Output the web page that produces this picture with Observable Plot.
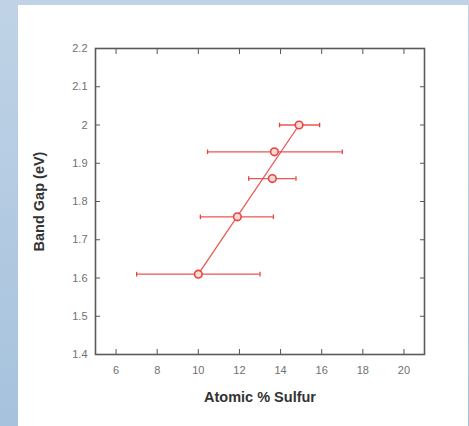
<!DOCTYPE html>
<html>
<head>
<meta charset="utf-8">
<script src="https://cdn.jsdelivr.net/npm/d3@7"></script>
<script src="https://cdn.jsdelivr.net/npm/@observablehq/plot@0.6"></script>
<style>
  html, body { margin: 0; padding: 0; }
  #wrap {
    position: relative; width: 469px; height: 426px; overflow: hidden;
    background: linear-gradient(to bottom, #c0d3e6 0%, #a6c2dd 100%);
  }
  #panel {
    position: absolute; left: 18px; top: 5px; right: 1px; bottom: 0;
    background: #ffffff;
  }
  #chart { position: absolute; left: 0; top: 0; }
  #chart svg { background: transparent; }
</style>
</head>
<body>
<div id="wrap"><div id="panel"></div><div id="chart"></div></div>
<script>
// Measured samples: atomic % sulfur (with spread) against band gap
const sulfur    = [10.0, 11.9, 13.6, 13.7, 14.9];
const sulfurLow = [7.0, 10.1, 12.45, 10.45, 13.95];
const sulfurHigh= [13.0, 13.65, 14.75, 17.0, 15.9];
const bandGap   = [1.61, 1.76, 1.86, 1.93, 2.00];

// Linear trend drawn through the series
const trendX = [10.0, 14.9];
const trendY = [1.61, 2.00];

const xTicks = [6, 8, 10, 12, 14, 16, 18, 20];
const yTicks = [1.4, 1.5, 1.6, 1.7, 1.8, 1.9, 2.0, 2.1, 2.2];

const points = sulfur.map((x, i) => ({x, lo: sulfurLow[i], hi: sulfurHigh[i], y: bandGap[i]}));
const trend = trendX.map((x, i) => ({x, y: trendY[i]}));

const red = "#e8443f";

// vertical bar used as the cap at each end of an error bar
const capSymbol = {
  draw(context, size) {
    const h = Math.sqrt(size) / 2;
    context.moveTo(0, -h);
    context.lineTo(0, h);
  }
};

const chart = Plot.plot({
  width: 469,
  height: 426,
  marginLeft: 95,
  marginRight: 45,
  marginTop: 48,
  marginBottom: 72,
  style: {fontFamily: "'Liberation Sans', Arial, sans-serif", background: "transparent"},
  x: {domain: [5, 21]},
  y: {domain: [1.4, 2.2]},
  marks: [
    Plot.axisX({anchor: "bottom", ticks: xTicks, tickSize: -5, tickPadding: 17,
      fontSize: 11, color: "#707070", stroke: "#555", label: null}),
    Plot.axisX({anchor: "top", ticks: xTicks, tickSize: -5, tickFormat: () => "",
      stroke: "#555", label: null}),
    Plot.axisY({anchor: "left", ticks: yTicks, tickSize: -5, tickPadding: 13,
      tickFormat: d => String(+d.toFixed(1)),
      fontSize: 11, color: "#707070", stroke: "#555", label: null}),
    Plot.axisY({anchor: "right", ticks: yTicks, tickSize: -5, tickFormat: () => "",
      stroke: "#555", label: null}),
    Plot.frame({stroke: "#5a5a5a", strokeWidth: 1.6}),
    Plot.ruleY(points, {y: "y", x1: "lo", x2: "hi", stroke: red, strokeWidth: 1.3, strokeOpacity: 0.9}),
    Plot.dot(points, {x: "lo", y: "y", symbol: capSymbol, r: 2.6, stroke: red, strokeWidth: 1.3}),
    Plot.dot(points, {x: "hi", y: "y", symbol: capSymbol, r: 2.6, stroke: red, strokeWidth: 1.3}),
    Plot.line(trend, {x: "x", y: "y", stroke: red, strokeWidth: 1.3, strokeOpacity: 0.9}),
    Plot.dot(points, {x: "x", y: "y", r: 3.8, stroke: red, strokeWidth: 1.6, fill: "#fbd9d7"}),
    Plot.text(["Atomic % Sulfur"], {frameAnchor: "bottom", dy: 47, fontSize: 14.5,
      fontWeight: "bold", fill: "#333"}),
    Plot.text(["Band Gap (eV)"], {frameAnchor: "left", textAnchor: "middle", dx: -56, rotate: -90,
      fontSize: 14.5, fontWeight: "bold", fill: "#333"})
  ]
});

document.getElementById("chart").appendChild(chart);
</script>
</body>
</html>
